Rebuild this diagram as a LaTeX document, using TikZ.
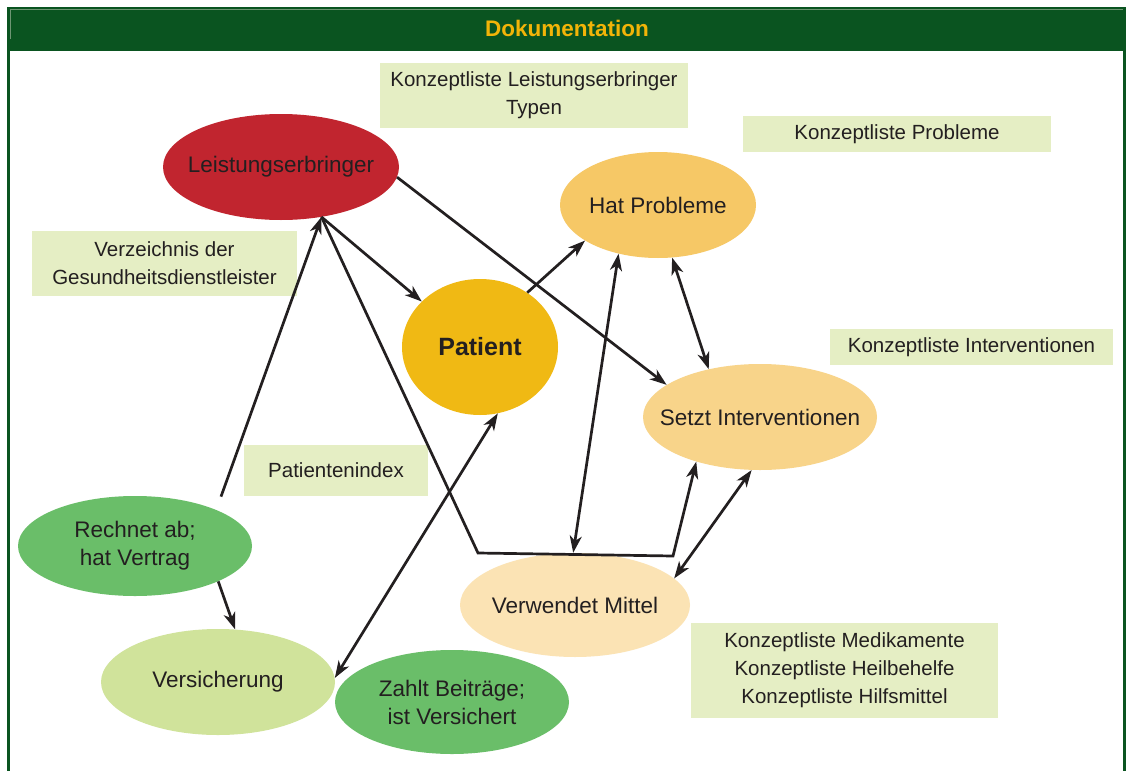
\documentclass[tikz,border=0pt]{standalone}
\usepackage{fontspec}
\setmainfont{Liberation Sans}
\usetikzlibrary{arrows.meta,shapes.geometric}
\definecolor{framegreen}{RGB}{10,84,32}
\definecolor{framelight}{RGB}{110,150,115}
\definecolor{titleyellow}{RGB}{242,180,8}
\definecolor{ink}{RGB}{35,31,32}
\definecolor{leistred}{RGB}{193,37,47}
\definecolor{patgold}{RGB}{240,185,20}
\definecolor{hatorange}{RGB}{246,200,102}
\definecolor{setztorange}{RGB}{248,212,138}
\definecolor{verwcream}{RGB}{251,227,180}
\definecolor{dkgreen}{RGB}{106,190,105}
\definecolor{ltgreen}{RGB}{208,227,155}
\definecolor{boxgreen}{RGB}{229,238,196}
\begin{document}
\begin{tikzpicture}[x=1pt,y=-1pt,
  ell/.style={ellipse, inner sep=0pt, draw=none},
  etext/.style={text=ink, font=\fontsize{22.5}{28}\selectfont, align=center},
  box/.style={rectangle, fill=boxgreen, inner sep=0pt, text=ink, font=\fontsize{20.5}{28}\selectfont, align=center},
  tip/.tip={Stealth[length=17pt,width=12pt,inset=5pt]},
  conn/.style={draw=ink, line width=2.7pt, -tip},
  dconn/.style={draw=ink, line width=2.7pt, tip-tip},
]
\useasboundingbox (0,0) rectangle (1130,771);
\fill[white] (0,0) rectangle (1130,771);
% frame
\fill[framegreen] (7,7) rectangle (1126,51);
\draw[framegreen, line width=2.6pt] (8.4,7) -- (8.4,771);
\draw[framegreen, line width=2.6pt] (1124.6,7) -- (1124.6,771);
\draw[framelight, line width=0.8pt] (10,39) -- (10,9.6) -- (1123,9.6);
\node[font=\bfseries\fontsize{22.5}{27}\selectfont, text=titleyellow] (title) at (567,28) {Dokumentation};

% boxes
\node[box, minimum width=308pt, minimum height=65pt] (b1) at (534,95.5) {Konzeptliste Leistungserbringer\\Typen};
\node[box, minimum width=308pt, minimum height=36pt] (b2) at (897,134) {Konzeptliste Probleme};
\node[box, minimum width=265pt, minimum height=65pt] (b3) at (164.5,263.5) {Verzeichnis der\\Gesundheitsdienstleister};
\node[box, minimum width=283pt, minimum height=36pt] (b4) at (971.5,347) {Konzeptliste Interventionen};
\node[box, minimum width=184pt, minimum height=51pt] (b5) at (336,470.5) {Patientenindex};
\node[box, minimum width=307pt, minimum height=95pt] (b6) at (844.5,670.5) {Konzeptliste Medikamente\\Konzeptliste Heilbehelfe\\Konzeptliste Hilfsmittel};

% ellipses
\node[ell, fill=leistred, minimum width=236pt, minimum height=106pt,
  label={[etext]center:Leistungserbringer}] (leist) at (281,167) {};
\node[ell, fill=patgold, minimum width=156pt, minimum height=136pt,
  label={[etext, font=\bfseries\fontsize{25}{28}\selectfont]center:Patient}] (pat) at (480,347) {};
\node[ell, fill=hatorange, minimum width=196pt, minimum height=106pt,
  label={[etext]center:Hat Probleme}] (hat) at (658,205) {};
\node[ell, fill=setztorange, minimum width=234pt, minimum height=106pt,
  label={[etext]center:Setzt Interventionen}] (setzt) at (760,417) {};
\node[ell, fill=verwcream, minimum width=230pt, minimum height=104pt,
  label={[etext]center:Verwendet Mittel}] (verw) at (575,605) {};
\node[ell, fill=dkgreen, minimum width=234pt, minimum height=100pt,
  label={[etext]center:Rechnet ab;\\hat Vertrag}] (rech) at (135,546) {};
\node[ell, fill=ltgreen, minimum width=234pt, minimum height=106pt,
  label={[etext]center:Versicherung}] (vers) at (218,682) {};
\node[ell, fill=dkgreen, minimum width=234pt, minimum height=104pt,
  label={[etext]center:Zahlt Beiträge;\\ist Versichert}] (zahlt) at (452,702) {};

% corner points of the routed connector
\coordinate (c1) at (478,553);
\coordinate (c2) at (673,556);

% connectors
\draw[conn, shorten <=14pt] (rech.24.4) -- (leist.-51);
\draw[conn] (leist.-51) -- (pat.142.2);
\draw[conn] (leist.-51) -- (c1) -- (c2) -- (setzt.215.8);
\draw[conn] (leist.-5.2) -- (setzt.161);
\draw[conn] (pat.49.5) -- (hat.206.3);
\draw[dconn] (hat.231.5) -- (verw.92);
\draw[dconn] (hat.-75.7) -- (setzt.137.3);
\draw[dconn] (setzt.261.4) -- (verw.15.4);
\draw[dconn] (pat.-75.6) -- (vers.2.9);
\draw[conn] (rech.-23.8) -- (vers.72.9);
\end{tikzpicture}
\end{document}
